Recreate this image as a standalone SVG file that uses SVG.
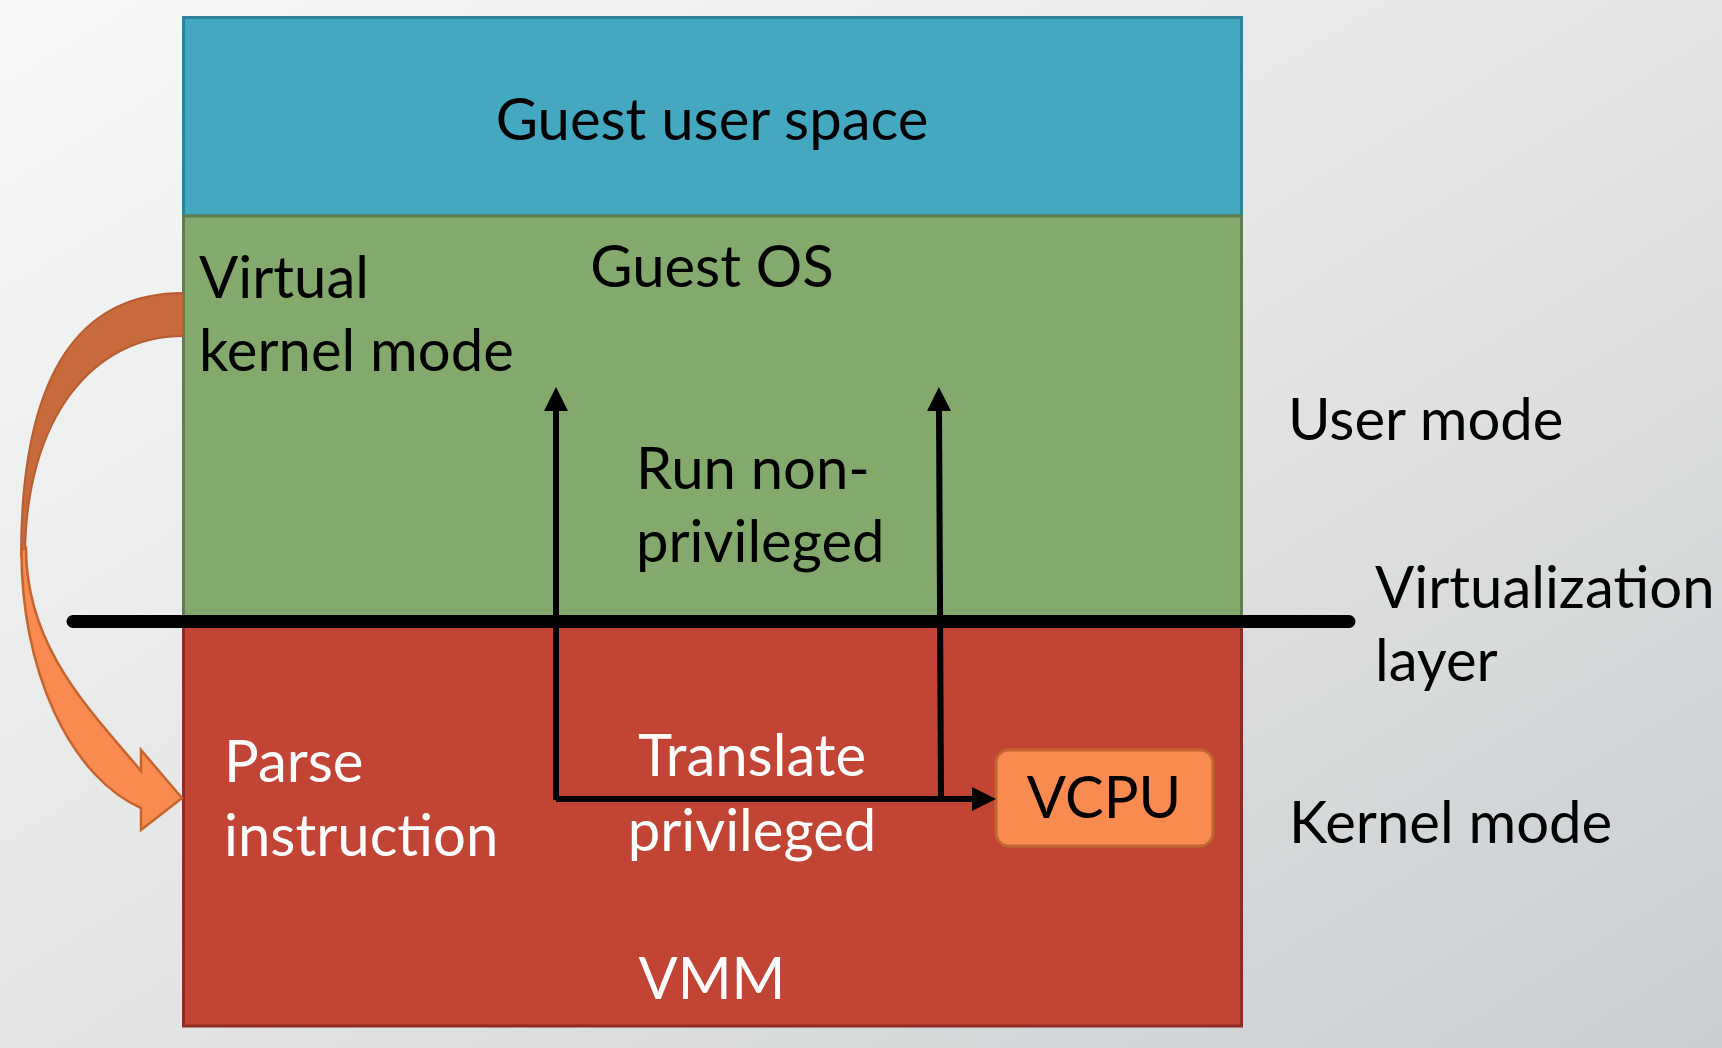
<svg xmlns="http://www.w3.org/2000/svg" width="1722" height="1048" viewBox="0 0 1722 1048">
<defs>
<linearGradient id="bg" x1="0" y1="0" x2="1" y2="1">
<stop offset="0" stop-color="#f7f8f8"/>
<stop offset="0.5" stop-color="#e4e6e6"/>
<stop offset="1" stop-color="#c9cdcf"/>
</linearGradient>
<marker id="ah" markerUnits="userSpaceOnUse" markerWidth="24" markerHeight="24" viewBox="0 0 24 24" refX="2" refY="12" orient="auto">
<path d="M0,0 L24,12 L0,24 Z" fill="#000"/>
</marker>
<style>
text{font-family:Lato,"Liberation Sans",sans-serif;font-size:58px}
.dk{fill:#000}
.wt{fill:#fff}
.mid{text-anchor:middle}
.conn{stroke:#000;stroke-width:6;fill:none}
</style>
</defs>
<rect width="1722" height="1048" fill="url(#bg)"/>
<g id="guest-user-space">
<rect x="183.5" y="17.5" width="1058" height="198.5" fill="#44a8c0" stroke="#31809a" stroke-width="3"/>
<text class="dk mid" x="712" y="140">Guest user space</text>
</g>
<g id="guest-os">
<rect x="183.5" y="216" width="1058" height="404" fill="#83aa6c" stroke="#5f7e4b" stroke-width="3"/>
<text class="dk mid" x="712" y="287">Guest OS</text>
<text class="dk" x="199" y="298">Virtual</text>
<text class="dk" x="199" y="371">kernel mode</text>
<text class="dk" x="636" y="489">Run non-</text>
<text class="dk" x="636" y="562">privileged</text>
</g>
<g id="vmm">
<rect x="183.5" y="620" width="1058" height="406" fill="#c14435" stroke="#8f2c22" stroke-width="3"/>
<text class="wt" x="224" y="782">Parse</text>
<text class="wt" x="224" y="856">instruction</text>
<text class="wt mid" x="752" y="776">Translate</text>
<text class="wt mid" x="752" y="851">privileged</text>
<text class="wt mid" x="712" y="999">VMM</text>
</g>
<g id="vcpu">
<rect x="996" y="750" width="217" height="96" rx="13" fill="#f98a50" stroke="#c0662f" stroke-width="3"/>
<text class="dk mid" x="1104" y="818">VCPU</text>
</g>
<g id="trap-arrow">
<path d="M183,293 C73,293 21,385 21,556 L25,558 C25,418 93,336 183,336 Z" fill="#c96a3d" stroke="#b75e31" stroke-width="2"/>
<path d="M21.5,550 A162,265 0 0 0 141,808 L141,830 L182,798 L141,750 L141,771 C91,711 26,648 26,548 Z" fill="#f98a50" stroke="#c4642f" stroke-width="2.5"/>
</g>
<g id="labels">
<text class="dk" x="1288" y="440">User mode</text>
<text class="dk" x="1375" y="608">Virtualization</text>
<text class="dk" x="1375" y="681">layer</text>
<text class="dk" x="1289" y="843">Kernel mode</text>
</g>
<g id="connectors">
<line x1="73" y1="621.5" x2="1349" y2="621.5" stroke="#000" stroke-width="13" stroke-linecap="round"/>
<path class="conn" d="M556,800 L556,409" marker-end="url(#ah)"/>
<path class="conn" d="M941,797 L939,409" marker-end="url(#ah)"/>
<path class="conn" d="M556,799 L974,799" marker-end="url(#ah)"/>
</g>
</svg>
